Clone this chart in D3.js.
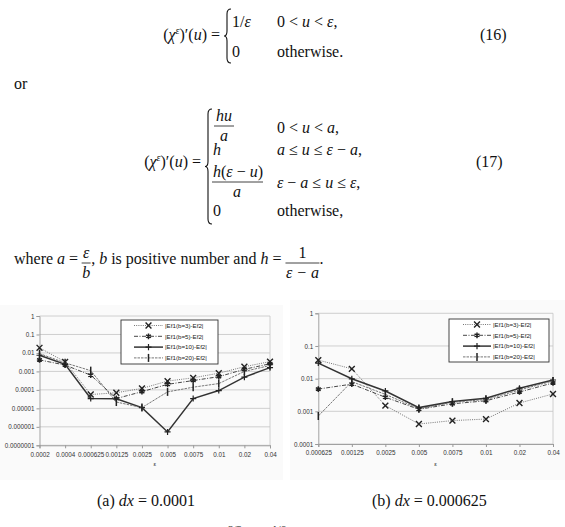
<!DOCTYPE html>
<html>
<head>
<meta charset="utf-8">
<script src="https://cdn.jsdelivr.net/npm/d3@7"></script>
<style>
  body { margin: 0; background: #fff; }
  svg { display: block; }
  text { white-space: pre; }
  .eq { font-family: "Liberation Serif", "Times New Roman", serif; font-size: 16px; fill: #111; }
  .it { font-style: italic; }
  .tick text { font-family: "Liberation Sans", Arial, sans-serif; font-size: 6.3px; fill: #333; }
</style>
</head>
<body>
<svg id="page" width="565" height="527"></svg>
<script>
// series names shown in the legends
const seriesNames = ["|Ef1(b=3)-Ef2|", "|Ef1(b=5)-Ef2|", "|Ef1(b=10)-Ef2|", "|Ef1(b=20)-Ef2|"];

// (a) dx = 0.0001
const epsA = ["0.0002", "0.0004", "0.000625", "0.00125", "0.0025", "0.005", "0.0075", "0.01", "0.02", "0.04"];
const aB3  = [0.019, 0.0033, 0.000056, 0.00007, 0.00012, 0.0003, 0.00045, 0.0008, 0.0018, 0.0034];
const aB5  = [0.0042, 0.0022, 0.00063, 0.000034, 0.00008, 0.0002, 0.00032, 0.00052, 0.0013, 0.0026];
const aB10 = [0.0075, 0.0024, 0.000034, 0.000033, 0.000011, 0.00000053, 0.000034, 0.000092, 0.00049, 0.0016];
const aB20 = [0.0092, 0.0029, 0.0011, 0.000022, 0.000011, 0.000078, 0.00014, 0.00022, 0.001, 0.0021];
const aDecades = [1, 0.1, 0.01, 0.001, 0.0001, 0.00001, 0.000001, 0.0000001];

// (b) dx = 0.000625
const epsB = ["0.000625", "0.00125", "0.0025", "0.005", "0.0075", "0.01", "0.02", "0.04"];
const bB3  = [0.037, 0.02, 0.0015, 0.00041, 0.00052, 0.00058, 0.0018, 0.0034];
const bB5  = [0.0048, 0.0068, 0.0027, 0.00115, 0.0017, 0.0021, 0.0039, 0.0074];
const bB10 = [0.03, 0.0099, 0.0042, 0.0013, 0.002, 0.0025, 0.0051, 0.0091];
const bB20 = [0.00072, 0.0081, 0.0033, 0.0012, 0.0019, 0.0023, 0.0045, 0.0085];
const bDecades = [1, 0.1, 0.01, 0.001, 0.0001];

const svg = d3.select("#page");

// ---------- text / equations ----------
// place a run of text pieces left to right, returns the end x
function run(x, y, pieces, parent = svg) {
    pieces.forEach(p => {
        const t = parent.append("text").attr("class", "eq" + (p.it ? " it" : ""))
            .attr("x", x).attr("y", y + (p.dy || 0)).text(p.t);
        if (p.size) t.style("font-size", p.size + "px");
        x += t.node().getComputedTextLength() + (p.gap || 0);
    });
    return x;
}

// same, but the run ends at xEnd
function runEnd(xEnd, y, pieces) {
    const probe = svg.append("g");
    const w = run(0, y, pieces, probe);
    probe.remove();
    return run(xEnd - w, y, pieces);
}

function frac(xc, y, num, den, w, numIt = true, denIt = true) {
    svg.append("text").attr("class", "eq" + (numIt ? " it" : "")).attr("x", xc).attr("y", y - 6)
        .attr("text-anchor", "middle").text(num);
    svg.append("line").attr("x1", xc - w / 2).attr("x2", xc + w / 2).attr("y1", y - 1).attr("y2", y - 1)
        .attr("stroke", "#111").attr("stroke-width", 0.8);
    svg.append("text").attr("class", "eq" + (denIt ? " it" : "")).attr("x", xc).attr("y", y + 14)
        .attr("text-anchor", "middle").text(den);
}

function brace(x, y0, y1) {
    const m = (y0 + y1) / 2;
    svg.append("path")
        .attr("d", `M${x + 5},${y0} Q${x + 1},${y0} ${x + 1},${y0 + 5} L${x + 1},${m - 5} Q${x + 1},${m} ${x - 2},${m}
                    Q${x + 1},${m} ${x + 1},${m + 5} L${x + 1},${y1 - 5} Q${x + 1},${y1} ${x + 5},${y1}`)
        .attr("fill", "none").attr("stroke", "#111").attr("stroke-width", 1.1);
}

const lhsPieces = [{t: "("}, {t: "χ", it: true}, {t: "ε", it: true, size: 10, dy: -6}, {t: ")′("}, {t: "u", it: true}, {t: ") = "}];

// eq (16)
runEnd(224, 40, lhsPieces);
brace(226, 9, 63);
run(232, 27, [{t: "1/"}, {t: "ε", it: true}]);
run(277, 27, [{t: "0 < "}, {t: "u", it: true}, {t: " < "}, {t: "ε", it: true}, {t: ","}]);
run(232, 57, [{t: "0"}]);
run(277, 57, [{t: "otherwise."}]);
run(480, 40, [{t: "(16)"}]);

run(14, 89, [{t: "or"}]);

// eq (17)
runEnd(205, 167, lhsPieces);
brace(207, 109, 224);
frac(224, 127, "hu", "a", 20);
run(277, 133, [{t: "0 < "}, {t: "u", it: true}, {t: " < "}, {t: "a", it: true}, {t: ","}]);
run(213, 155, [{t: "h", it: true}]);
run(277, 155, [{t: "a", it: true}, {t: " ≤ "}, {t: "u", it: true}, {t: " ≤ "}, {t: "ε", it: true}, {t: " − "}, {t: "a", it: true}, {t: ","}]);
run(213, 177, [{t: "h", it: true}, {t: "("}, {t: "ε", it: true}, {t: " − "}, {t: "u", it: true}, {t: ")"}]);
svg.append("line").attr("x1", 212).attr("x2", 263).attr("y1", 182).attr("y2", 182).attr("stroke", "#111").attr("stroke-width", 0.8);
svg.append("text").attr("class", "eq it").attr("x", 237).attr("y", 197).attr("text-anchor", "middle").text("a");
run(277, 188, [{t: "ε", it: true}, {t: " − "}, {t: "a", it: true}, {t: " ≤ "}, {t: "u", it: true}, {t: " ≤ "}, {t: "ε", it: true}, {t: ","}]);
run(213, 216, [{t: "0"}]);
run(277, 216, [{t: "otherwise,"}]);
run(476, 167, [{t: "(17)"}]);

// "where" line
let wx = run(14, 264, [{t: "where "}, {t: "a", it: true}, {t: " = ", gap: 0}]);
frac(wx + 4, 264, "ε", "b", 9);
wx = run(wx + 9, 264, [{t: ", "}, {t: "b", it: true}, {t: " is positive number and "}, {t: "h", it: true}, {t: " = ", gap: 0}]);
frac(wx + 17, 264, "1", "ε − a", 34, false, true);
run(wx + 34, 264, [{t: "."}]);

// ---------- charts ----------
function drawChart(cfg) {
    const g = svg.append("g");
    g.append("rect").attr("x", cfg.bg[0]).attr("y", cfg.bg[1]).attr("width", cfg.bg[2]).attr("height", cfg.bg[3])
        .attr("fill", "#fafafa");

    const x = d3.scalePoint().domain(cfg.eps).range([cfg.left, cfg.right]);
    const y = d3.scaleLog().domain([d3.min(cfg.decades), 1]).range([cfg.bottom, cfg.top]);

    // gridlines
    g.append("g").selectAll("line").data(cfg.decades).join("line")
        .attr("x1", cfg.left).attr("x2", cfg.right)
        .attr("y1", d => y(d)).attr("y2", d => y(d))
        .attr("stroke", "#c4c4c4").attr("stroke-width", 0.8);
    g.append("line").attr("x1", cfg.right).attr("x2", cfg.right).attr("y1", cfg.top).attr("y2", cfg.bottom)
        .attr("stroke", "#c4c4c4").attr("stroke-width", 0.8);

    const fmt = d => d.toFixed(Math.max(0, -Math.round(Math.log10(d))));
    const yAxis = g.append("g").attr("transform", `translate(${cfg.left},0)`)
        .call(d3.axisLeft(y).tickValues(cfg.decades).tickFormat(fmt).tickSize(3).tickPadding(2));
    const xAxis = g.append("g").attr("transform", `translate(0,${cfg.bottom})`)
        .call(d3.axisBottom(x).tickSize(3).tickPadding(4));
    [yAxis, xAxis].forEach(a => {
        a.select(".domain").attr("stroke", "#999").attr("stroke-width", 0.9);
        a.selectAll(".tick line").attr("stroke", "#999");
        a.attr("font-family", null).attr("font-size", null);
    });

    g.append("text").attr("x", (cfg.left + cfg.right) / 2).attr("y", 466).attr("text-anchor", "middle")
        .attr("font-family", "Liberation Sans, Arial, sans-serif").attr("font-size", 6).attr("fill", "#333").text("ε");

    const line = d3.line().x((d, i) => x(cfg.eps[i])).y(d => y(d));
    cfg.series.forEach((vals, k) => {
        const st = styles[k];
        g.append("path").datum(vals).attr("d", line).attr("fill", "none")
            .attr("stroke", st.color).attr("stroke-width", st.width).attr("stroke-dasharray", st.dash);
        g.append("g").selectAll("path").data(vals).join("path")
            .attr("transform", (d, i) => `translate(${x(cfg.eps[i])},${y(d)})`)
            .attr("d", st.marker).attr("fill", "none").attr("stroke", "#222").attr("stroke-width", st.mw);
    });

    // legend
    const L = cfg.legend;
    const lg = g.append("g");
    lg.append("rect").attr("x", L.x).attr("y", L.y).attr("width", L.w).attr("height", L.h)
        .attr("fill", "#fff").attr("stroke", "#333").attr("stroke-width", 0.9);
    seriesNames.forEach((name, k) => {
        const st = styles[k];
        const ry = L.y + 5.5 + k * L.step;
        lg.append("line").attr("x1", L.x + L.l0).attr("x2", L.x + L.l1).attr("y1", ry).attr("y2", ry)
            .attr("stroke", st.color).attr("stroke-width", st.width).attr("stroke-dasharray", st.dash);
        lg.append("path").attr("transform", `translate(${L.x + (L.l0 + L.l1) / 2},${ry})`)
            .attr("d", st.marker).attr("fill", "none").attr("stroke", "#222").attr("stroke-width", st.mw);
        lg.append("text").attr("x", L.x + L.l1 + 2).attr("y", ry + 2.2)
            .attr("font-family", "Liberation Sans, Arial, sans-serif").attr("font-size", 6.2).attr("fill", "#222").text(name);
    });
}

const bar = d3.path(); bar.moveTo(0, -4); bar.lineTo(0, 4);
const styles = [
    {color: "#666", width: 0.9, dash: "1,1.2", marker: d3.symbol(d3.symbolTimes, 24)(), mw: 1.4},
    {color: "#333", width: 0.9, dash: "4,1.5,1,1.5", marker: d3.symbol(d3.symbolAsterisk, 22)(), mw: 1.5},
    {color: "#333", width: 1.5, dash: null, marker: d3.symbol(d3.symbolPlus, 14)(), mw: 1.2},
    {color: "#555", width: 0.8, dash: "2.5,1", marker: bar.toString(), mw: 1.5}
];

drawChart({
    eps: epsA, decades: aDecades, series: [aB3, aB5, aB10, aB20],
    left: 39.5, right: 270, top: 316, bottom: 445.3,
    bg: [0, 305, 283, 175],
    legend: {x: 121, y: 320, w: 97, h: 44, step: 10.8, l0: 13, l1: 42}
});
drawChart({
    eps: epsB, decades: bDecades, series: [bB3, bB5, bB10, bB20],
    left: 318.3, right: 553, top: 313.3, bottom: 444,
    bg: [290, 300, 275, 180],
    legend: {x: 449, y: 319, w: 100, h: 43, step: 10.8, l0: 14, l1: 42}
});

// captions
run(97, 506, [{t: "(a) "}, {t: "dx", it: true}, {t: " = 0.0001"}]);
run(372, 506, [{t: "(b) "}, {t: "dx", it: true}, {t: " = 0.000625"}]);

// superscripts of the next line, cut by the page edge
svg.append("text").attr("class", "eq").attr("x", 228).attr("y", 533).style("font-size", "11px").text("2/3");
svg.append("text").attr("class", "eq").attr("x", 272).attr("y", 533).style("font-size", "11px").text("1/6");
</script>
</body>
</html>
